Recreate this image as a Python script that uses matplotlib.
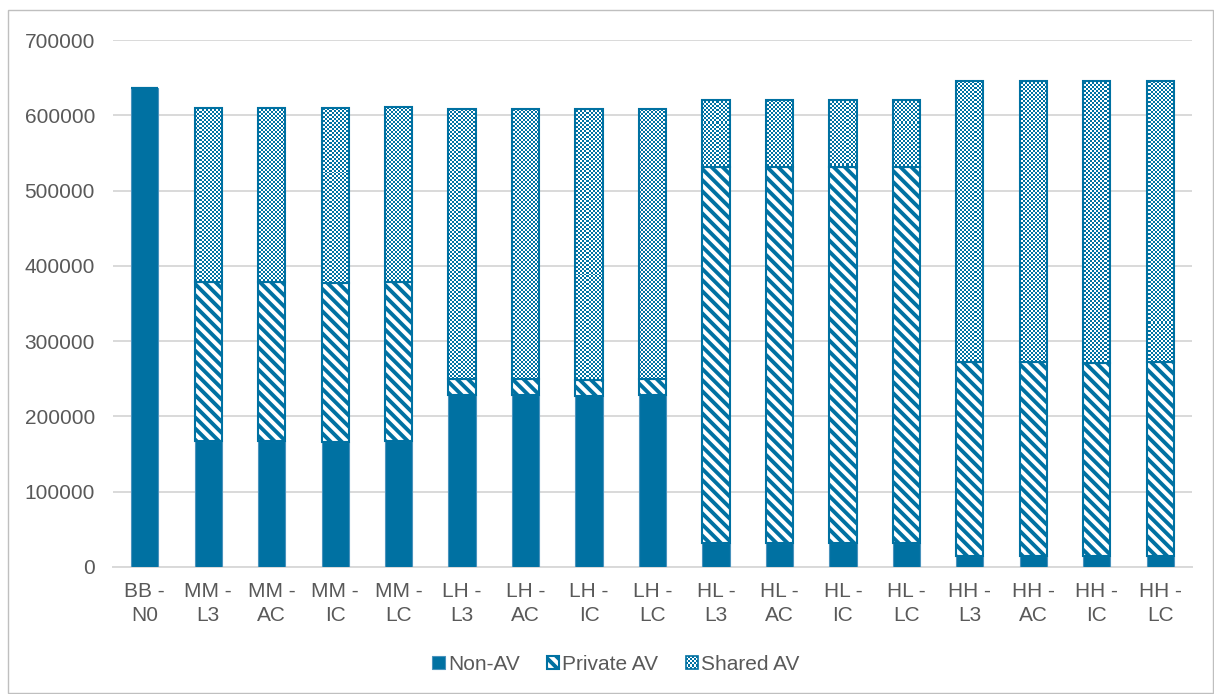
import numpy as np
import matplotlib
matplotlib.use("Agg")
import matplotlib.pyplot as plt
from matplotlib.patches import Rectangle, Patch
from matplotlib.legend_handler import HandlerBase

BLUE = "#0071A2"
TEXT = "#595959"
GRID = "#D9D9D9"
FS = 15

plt.rcParams["font.family"] = ["Liberation Sans", "DejaVu Sans"]
plt.rcParams["hatch.linewidth"] = 2.8

# Scenario labels (two lines each)
categories = ["BB -\nN0",
              "MM -\nL3", "MM -\nAC", "MM -\nIC", "MM -\nLC",
              "LH -\nL3", "LH -\nAC", "LH -\nIC", "LH -\nLC",
              "HL -\nL3", "HL -\nAC", "HL -\nIC", "HL -\nLC",
              "HH -\nL3", "HH -\nAC", "HH -\nIC", "HH -\nLC"]

# Trips by vehicle type
non_av = [636400,
          166800, 166900, 166500, 168000,
          228400, 228600, 227500, 228700,
          32300, 32200, 32000, 32300,
          15000, 15000, 14800, 15100]
private_av = [0,
              211200, 211100, 210500, 210500,
              21200, 20900, 21000, 20900,
              499300, 499300, 499000, 499300,
              257000, 257500, 256700, 257400]
shared_av = [0,
             231800, 232200, 232300, 232500,
             359300, 359000, 359500, 359400,
             89200, 88900, 89000, 89200,
             373700, 373200, 373800, 373500]

y_ticks = [0, 100000, 200000, 300000, 400000, 500000, 600000, 700000]
series_names = ["Non-AV", "Private AV", "Shared AV"]

W, H, DPI = 1214, 694, 100
fig = plt.figure(figsize=(W / DPI, H / DPI), dpi=DPI)
ax = fig.add_axes([113 / W, 1 - 567 / H, (1192 - 113) / W, (567 - 40) / H])

x = np.arange(len(categories))
non = np.array(non_av, dtype=float)
prv = np.array(private_av, dtype=float)
shr = np.array(shared_av, dtype=float)
bw = 0.43

b_non = ax.bar(x, non, width=bw, color=BLUE, edgecolor="#4A93BD",
               linewidth=0.8, zorder=3, label=series_names[0])
b_prv = ax.bar(x, prv, width=bw, bottom=non, facecolor="white",
               edgecolor=BLUE, hatch="\\\\\\", linewidth=1.5, zorder=3,
               label=series_names[1])
b_shr = ax.bar(x, shr, width=bw, bottom=non + prv, facecolor="none",
               edgecolor=BLUE, linewidth=1.5, zorder=4,
               label=series_names[2])

# Small checkerboard fill for the shared segments, clipped to each bar
ny, nx = 264, 540
checker = (np.add.outer(np.arange(ny), np.arange(nx)) % 2).astype(float)
cmap = matplotlib.colors.ListedColormap(["white", BLUE])
for rect, h in zip(b_shr.patches, shr):
    if h <= 0:
        continue
    im = ax.imshow(checker, cmap=cmap, interpolation="nearest",
                   extent=(0, 1, 0, 1), transform=ax.transAxes,
                   aspect="auto", zorder=3.5, resample=False)
    im.set_clip_path(rect)

ax.set_xlim(-0.5, len(categories) - 0.5)
ax.set_ylim(0, 700000)
ax.set_yticks(y_ticks)
ax.set_yticklabels([str(v) for v in y_ticks])
ax.set_xticks(x)
ax.set_xticklabels(categories)

ax.yaxis.grid(True, color=GRID, linewidth=1.4)
ax.set_axisbelow(True)
for s in ["left", "right", "top"]:
    ax.spines[s].set_visible(False)
ax.spines["bottom"].set_color(GRID)
ax.spines["bottom"].set_linewidth(1.4)
ax.tick_params(axis="both", length=0, labelsize=FS, labelcolor=TEXT)
ax.tick_params(axis="y", pad=13)
ax.tick_params(axis="x", pad=11)
for t in ax.get_xticklabels():
    t.set_linespacing(1.3)


class CheckerHandler(HandlerBase):
    def create_artists(self, legend, orig_handle, xdescent, ydescent,
                       width, height, fontsize, trans):
        arts = []
        n = 6
        cw, ch = width / n, height / n
        for i in range(n):
            for j in range(n):
                if (i + j) % 2 == 0:
                    arts.append(Rectangle((-xdescent + i * cw, -ydescent + j * ch),
                                          cw, ch, facecolor=BLUE, edgecolor="none",
                                          transform=trans))
        arts.append(Rectangle((-xdescent, -ydescent), width, height,
                              facecolor="none", edgecolor=BLUE, linewidth=1.2,
                              transform=trans))
        return arts


shared_proxy = Patch(facecolor="none", edgecolor=BLUE)
leg = fig.legend([b_non, b_prv, shared_proxy], series_names,
                 handler_map={shared_proxy: CheckerHandler()},
                 loc="center", bbox_to_anchor=(616 / W, 1 - 664 / H),
                 ncol=3, frameon=False, fontsize=FS,
                 handlelength=0.6, handleheight=0.6, handletextpad=0.15,
                 columnspacing=1.3)
for t in leg.get_texts():
    t.set_color(TEXT)

# Chart area border
fig.add_artist(Rectangle((7.5 / W, 1.5 / H), (1212.5 - 7.5) / W, (684.5 - 1.5) / H,
                         transform=fig.transFigure, fill=False,
                         edgecolor="#BFBFBF", linewidth=1.0))

fig.savefig("out.png", dpi=DPI)
